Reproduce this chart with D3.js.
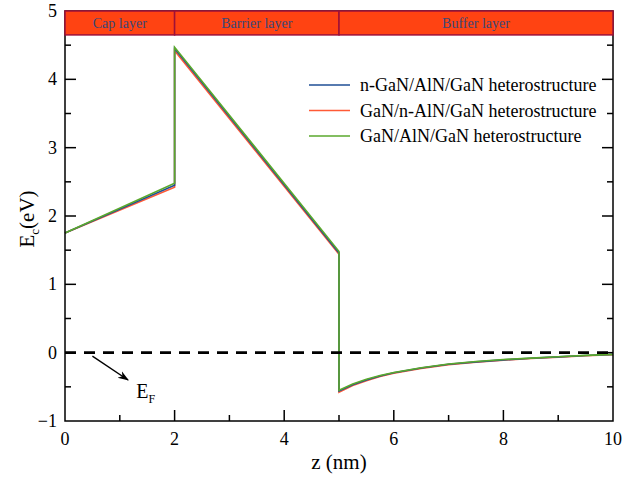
<!DOCTYPE html>
<html>
<head>
<meta charset="utf-8">
<script src="https://cdn.jsdelivr.net/npm/d3@7"></script>
<style>
  body { margin: 0; background: #fff; }
</style>
</head>
<body>
<div id="chart"></div>
<script>
// positions along z (nm), duplicated at the interfaces for the band jumps
const zPoints = [0, 2, 2, 5, 5, 5.25, 5.5, 5.75, 6, 6.5, 7, 7.5, 8, 8.5, 9, 9.5, 10];
const ecNGaN = [1.75, 2.45, 4.45, 1.46, -0.56, -0.47, -0.40, -0.34, -0.295, -0.225, -0.17, -0.135, -0.105, -0.082, -0.062, -0.042, -0.027];
const ecNAlN = [1.75, 2.42, 4.42, 1.44, -0.58, -0.48, -0.41, -0.35, -0.30, -0.23, -0.175, -0.14, -0.11, -0.085, -0.065, -0.045, -0.03];
const ecUndoped = [1.75, 2.48, 4.47, 1.48, -0.55, -0.46, -0.39, -0.335, -0.29, -0.22, -0.165, -0.13, -0.10, -0.08, -0.06, -0.04, -0.025];

const seriesNames = ["n-GaN/AlN/GaN heterostructure", "GaN/n-AlN/GaN heterostructure", "GaN/AlN/GaN heterostructure"];
const seriesColors = ["#1f4f96", "#ff5a36", "#5aa82c"];

const layerNames = ["Cap layer", "Barrier layer", "Buffer layer"];
const layerEdges = [0, 2, 5, 10];

const xTicks = [0, 2, 4, 6, 8, 10];
const yTicks = [-1, 0, 1, 2, 3, 4, 5];

const width = 644, height = 477;
const margin = {top: 11, right: 31, bottom: 56, left: 65};

const svg = d3.select("#chart").append("svg")
  .attr("width", width)
  .attr("height", height)
  .style("font-family", "'Liberation Serif', serif");

const x = d3.scaleLinear().domain([0, 10]).range([margin.left, width - margin.right]);
const y = d3.scaleLinear().domain([-1, 5]).range([height - margin.bottom, margin.top]);

// curves
const series = [ecNAlN, ecNGaN, ecUndoped];
const order = [1, 0, 2];
const line = d3.line().x(d => x(d[0])).y(d => y(d[1]));
series.forEach((vals, i) => {
  svg.append("path")
    .datum(zPoints.map((z, k) => [z, vals[k]]))
    .attr("fill", "none")
    .attr("stroke", seriesColors[order[i]])
    .attr("stroke-width", 1.6)
    .attr("d", line);
});

// Fermi level
svg.append("line")
  .attr("x1", x(0)).attr("x2", x(10))
  .attr("y1", y(0)).attr("y2", y(0))
  .attr("stroke", "#000")
  .attr("stroke-width", 2.6)
  .attr("stroke-dasharray", "11,8");

// arrow to E_F
svg.append("defs").append("marker")
  .attr("id", "arr")
  .attr("viewBox", "0 0 10 10")
  .attr("refX", 9).attr("refY", 5)
  .attr("markerWidth", 8).attr("markerHeight", 8)
  .attr("orient", "auto")
  .append("path").attr("d", "M0,1.5 L10,5 L0,8.5 L3,5 Z").attr("fill", "#000");
svg.append("line")
  .attr("x1", x(0.5)).attr("y1", y(-0.05))
  .attr("x2", x(1.15)).attr("y2", y(-0.4))
  .attr("stroke", "#000").attr("stroke-width", 1.4)
  .attr("marker-end", "url(#arr)");
const ef = svg.append("text")
  .attr("x", x(1.3)).attr("y", y(-0.66))
  .attr("font-size", 20);
ef.append("tspan").text("E");
ef.append("tspan").attr("font-size", 12).attr("dy", 5).text("F");

// axes frame with inward ticks
const xMinor = d3.range(1, 10, 2);
const yMinor = d3.range(-0.5, 5, 1);
const tickG = svg.append("g").attr("stroke", "#000").attr("stroke-width", 1.5);
xTicks.slice(1, -1).forEach(t => {
  tickG.append("line").attr("x1", x(t)).attr("x2", x(t)).attr("y1", y(-1)).attr("y2", y(-1) - 11);
});
xMinor.forEach(t => {
  tickG.append("line").attr("x1", x(t)).attr("x2", x(t)).attr("y1", y(-1)).attr("y2", y(-1) - 6);
});
yTicks.slice(1, -1).forEach(t => {
  tickG.append("line").attr("x1", x(0)).attr("x2", x(0) + 11).attr("y1", y(t)).attr("y2", y(t));
  tickG.append("line").attr("x1", x(10)).attr("x2", x(10) - 11).attr("y1", y(t)).attr("y2", y(t));
});
yMinor.forEach(t => {
  tickG.append("line").attr("x1", x(0)).attr("x2", x(0) + 6).attr("y1", y(t)).attr("y2", y(t));
  tickG.append("line").attr("x1", x(10)).attr("x2", x(10) - 6).attr("y1", y(t)).attr("y2", y(t));
});
svg.append("rect")
  .attr("x", x(0)).attr("y", y(5))
  .attr("width", x(10) - x(0)).attr("height", y(-1) - y(5))
  .attr("fill", "none").attr("stroke", "#000").attr("stroke-width", 1.5);

// layer band on top
const bandTop = 5, bandBottom = 4.65;
layerNames.forEach((name, i) => {
  const x0 = x(layerEdges[i]), x1 = x(layerEdges[i + 1]);
  svg.append("rect")
    .attr("x", x0).attr("y", y(bandTop))
    .attr("width", x1 - x0).attr("height", y(bandBottom) - y(bandTop))
    .attr("fill", "#ff4312")
    .attr("stroke", "#9e1038").attr("stroke-width", 1.5);
  svg.append("text")
    .attr("x", (x0 + x1) / 2).attr("y", (y(bandTop) + y(bandBottom)) / 2 + 5)
    .attr("text-anchor", "middle")
    .attr("font-size", 14)
    .attr("fill", "#3a4778")
    .text(name);
});

// tick labels
xTicks.forEach(t => {
  svg.append("text")
    .attr("x", x(t)).attr("y", y(-1) + 24)
    .attr("text-anchor", "middle").attr("font-size", 18)
    .text(t);
});
yTicks.forEach(t => {
  svg.append("text")
    .attr("x", x(0) - 8).attr("y", y(t) + 6)
    .attr("text-anchor", "end").attr("font-size", 18)
    .text(t < 0 ? "\u2212" + Math.abs(t) : t);
});

// axis titles
svg.append("text")
  .attr("x", x(5)).attr("y", 469)
  .attr("text-anchor", "middle").attr("font-size", 21)
  .text("z (nm)");
const yt = svg.append("text")
  .attr("transform", `translate(34,219) rotate(-90)`)
  .attr("text-anchor", "middle").attr("font-size", 21);
yt.append("tspan").text("E");
yt.append("tspan").attr("font-size", 13).attr("dy", 5).text("c");
yt.append("tspan").attr("dy", -5).text("(eV)");

// legend
seriesNames.forEach((name, i) => {
  const ly = 85 + i * 25.5;
  svg.append("line")
    .attr("x1", 309).attr("x2", 350)
    .attr("y1", ly).attr("y2", ly)
    .attr("stroke", seriesColors[i]).attr("stroke-width", 1.6);
  svg.append("text")
    .attr("x", 360).attr("y", ly + 6)
    .attr("font-size", 18)
    .text(name);
});
</script>
</body>
</html>
